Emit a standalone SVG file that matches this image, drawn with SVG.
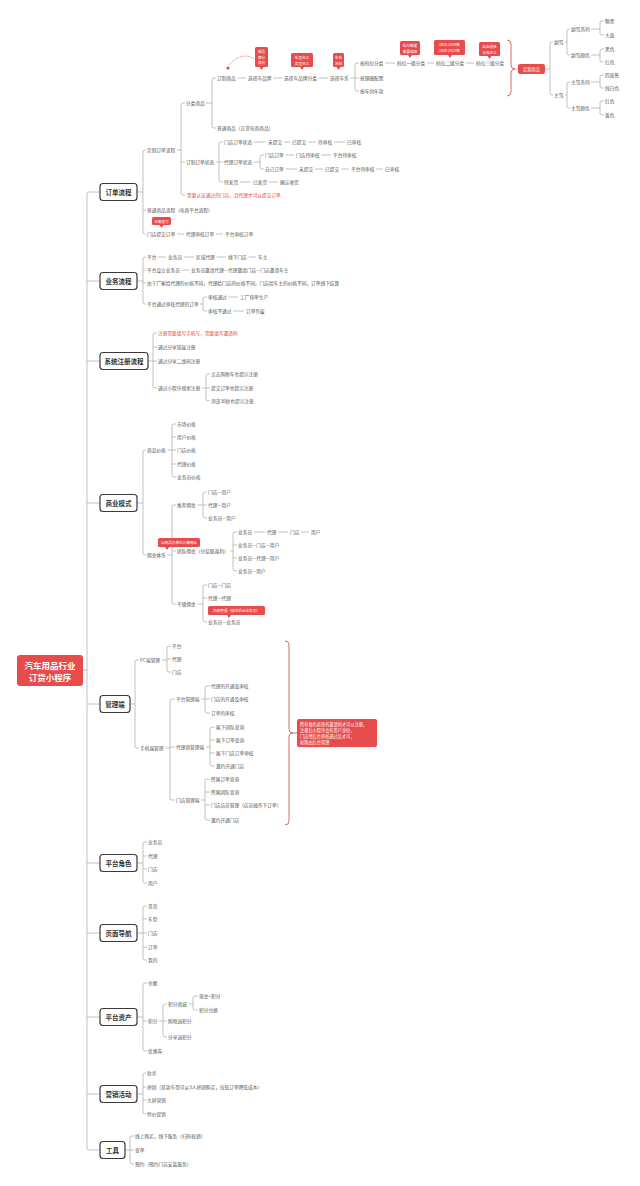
<svg xmlns="http://www.w3.org/2000/svg" width="640" height="1186" viewBox="0 0 640 1186">
<style>
text{font-family:"Noto Sans CJK SC","Noto Sans",sans-serif;font-size:4.7px;fill:#555;dominant-baseline:central}
.r{fill:#e8453c}
.w{fill:#fff;font-size:3.6px;text-anchor:middle}
.wl{fill:#fff;font-size:4.2px}
.h{font-size:6.5px;font-weight:bold;fill:#333;text-anchor:middle}
.rt{font-size:8.5px;font-weight:bold;fill:#fff;text-anchor:middle}
.c{fill:none;stroke:#a8a8a8;stroke-width:0.7}
.br{fill:none;stroke:#c9605a;stroke-width:0.9}
.dt{fill:none;stroke:#e05050;stroke-width:0.8;stroke-dasharray:1 1}
.bx{fill:#fff;stroke:#3a3a3a;stroke-width:1.2}
.rd{fill:#e84b4b}
</style>
<rect width="640" height="1186" fill="#fff"/>
<g id="connectors">
<path class="c" d="M83 670H87M100 192H89Q87 192 87 194V1148Q87 1150 89 1150H100M87 281H100M87 361H100M87 503H100M87 704H100M87 863H100M87 933H100M87 1017H100M87 1094H100"/>
<!-- 订单流程 -->
<path class="c" d="M137 192H143M146 150H145Q143 150 143 152V232Q143 234 145 234H146M143 210H146M177 234H184M216 234H223"/>
<path class="c" d="M177 150H181M185 103H183Q181 103 181 105V193Q181 195 183 195H185M181 162H185"/>
<path class="c" d="M206 103H212M216 78H214Q212 78 212 80V126Q212 128 214 128H216"/>
<path class="c" d="M237.5 78H246M273 78H282M318.5 78H328M350.5 78H355M359 63H357Q355 63 355 65V89Q355 91 357 91H359M355 78H359M385 63H395M427 63H434M466 63H474"/>
<path class="br" d="M507 40Q511 40 511 44V65Q511 69 515 69Q511 69 511 73V92Q511 96 507 96"/>
<path class="c" d="M515 69H518M545 69H550M553 42H552Q550 42 550 44V93Q550 95 552 95H553"/>
<path class="c" d="M565 42H567M570 29H569Q567 29 567 31V53Q567 55 569 55H570M565 95H567M570 82H569Q567 82 567 84V106Q567 108 569 108H570"/>
<path class="c" d="M591 29H600M604 21H602Q600 21 600 23V33Q600 35 602 35H604M591 55H600M604 49H602Q600 49 600 51V60Q600 62 602 62H604M591 82H600M604 75H602Q600 75 600 77V86Q600 88 602 88H604M591 108H600M604 101H602Q600 101 600 103V113Q600 115 602 115H604"/>
<path class="dt" d="M256 60Q242 50 228 66"/>
<circle cx="228" cy="68" r="1.6" fill="#e05050"/>
<path class="c" d="M216 162H219M223 142H221Q219 142 219 144V180Q219 182 221 182H223M219 162H223M254 142H266M284 142H290M308 142H316M334 142H345"/>
<path class="c" d="M254 162H260M264 155H262Q260 155 260 157V167Q260 169 262 169H264M285.5 155H294M321 155H331M285.5 169H297M315 169H323M341 169H349M376 169H383M240 182H251M269 182H278"/>
<!-- 业务流程 -->
<path class="c" d="M137 281H143M146 257H145Q143 257 143 259V302Q143 304 145 304H146M143 270H146M143 283H146M158 257H166M184 257H194M216.5 257H226M248.5 257H256M181.5 270H189"/>
<path class="c" d="M200 304H203M207 297H205Q203 297 203 299V309Q203 311 205 311H207M228.5 297H238M233 311H244"/>
<!-- 系统注册流程 -->
<path class="c" d="M148 361H153M157 333H155Q153 333 153 335V386Q153 388 155 388H157M153 347H157M153 361H157M202 388H206M210 374H208Q206 374 206 376V399Q206 401 208 401H210M206 388H210"/>
<!-- 商业模式 -->
<path class="c" d="M137 503H143M146 450H145Q143 450 143 452V553Q143 555 145 555H146M167.5 450H172M176 424H174Q172 424 172 426V475Q172 477 174 477H176M172 437H176M172 450H176M172 464H176"/>
<path class="c" d="M167.5 555H172M176 505H174Q172 505 172 507V602Q172 604 174 604H176M172 551H176"/>
<path class="c" d="M197.5 505H203M207 492H205Q203 492 203 494V516Q203 518 205 518H207M203 505H207"/>
<path class="c" d="M230 551H233M237 532H235Q233 532 233 534V569Q233 571 235 571H237M233 545H237M233 558H237M254 532H265M278 532H288M301 532H309"/>
<path class="c" d="M197.5 604H203M207 585H205Q203 585 203 587V620Q203 622 205 622H207M203 598H207"/>
<!-- 管理端 -->
<path class="c" d="M130 704H135M139 660H137Q135 660 135 662V746Q135 748 137 748H139M162 660H167M171 646H169Q167 646 167 648V670Q167 672 169 672H171M167 659H171"/>
<path class="c" d="M165 748H170M175 699H172Q170 699 170 701V798Q170 800 172 800H175M170 747H175"/>
<path class="c" d="M201 699H205M210 686H207Q205 686 205 688V711Q205 713 207 713H210M205 699H210"/>
<path class="c" d="M206 747H210M215 727H212Q210 727 210 729V764Q210 766 212 766H215M210 740H215M210 753H215"/>
<path class="c" d="M201 800H205M210 779H207Q205 779 205 781V818Q205 820 207 820H210M205 792H210M205 805H210"/>
<path class="br" d="M285 641Q289 641 289 645V729Q289 733 293 733Q289 733 289 737V821Q289 825 285 825M293 733H297"/>
<!-- 平台角色 / 页面导航 / 平台资产 / 营销活动 / 工具 -->
<path class="c" d="M137 863H143M147 842H145Q143 842 143 844V881Q143 883 145 883H147M143 856H147M143 869H147"/>
<path class="c" d="M137 933H143M147 906H145Q143 906 143 908V958Q143 960 145 960H147M143 919H147M143 933H147M143 947H147"/>
<path class="c" d="M137 1017H143M147 983H145Q143 983 143 985V1049Q143 1051 145 1051H147M143 1021H147M159 1021H163M167 1004H165Q163 1004 163 1006V1035Q163 1037 165 1037H167M163 1021H167M188.5 1004H193M198 996H195Q193 996 193 998V1008Q193 1010 195 1010H198"/>
<path class="c" d="M137 1094H143M146 1073H145Q143 1073 143 1075V1112Q143 1114 145 1114H146M143 1087H146M143 1100H146"/>
<path class="c" d="M125 1150H130M134 1136H132Q130 1136 130 1138V1162Q130 1164 132 1164H134M130 1150H134"/>
</g>

<g id="root"><rect x="17" y="655" width="66" height="31" rx="3" class="rd"/><text x="50" y="665" class="rt">汽车用品行业</text><text x="50" y="677" class="rt">订货小程序</text></g>

<g id="b-order"><rect x="100" y="183.5" width="37" height="17" rx="3" class="bx"/><text x="118.5" y="192" class="h">订单流程</text></g>
<g id="b-biz"><rect x="100" y="272.5" width="37" height="17" rx="3" class="bx"/><text x="118.5" y="281" class="h">业务流程</text></g>
<g id="b-reg"><rect x="100" y="352.5" width="48" height="17" rx="3" class="bx"/><text x="124" y="361" class="h">系统注册流程</text></g>
<g id="b-model"><rect x="100" y="494.5" width="37" height="17" rx="3" class="bx"/><text x="118.5" y="503" class="h">商业模式</text></g>
<g id="b-admin"><rect x="100" y="695.5" width="30" height="17" rx="3" class="bx"/><text x="115" y="704" class="h">管理端</text></g>
<g id="b-role"><rect x="100" y="854.5" width="37" height="17" rx="3" class="bx"/><text x="118.5" y="863" class="h">平台角色</text></g>
<g id="b-nav"><rect x="100" y="924.5" width="37" height="17" rx="3" class="bx"/><text x="118.5" y="933" class="h">页面导航</text></g>
<g id="b-asset"><rect x="100" y="1008.5" width="37" height="17" rx="3" class="bx"/><text x="118.5" y="1017" class="h">平台资产</text></g>
<g id="b-mkt"><rect x="100" y="1085.5" width="37" height="17" rx="3" class="bx"/><text x="118.5" y="1094" class="h">营销活动</text></g>
<g id="b-tool"><rect x="100" y="1141.5" width="25" height="17" rx="3" class="bx"/><text x="112.5" y="1150" class="h">工具</text></g>

<!-- 订单流程 nodes -->
<g id="o1"><text x="147" y="150">定制订单流程</text></g>
<g id="o2"><text x="186" y="103">分类商品</text></g>
<g id="o3"><text x="217" y="78">订制商品</text></g>
<g id="o4"><text x="248" y="78">选择车品牌</text></g>
<g id="o5"><text x="284" y="78">选择车品牌分类</text></g>
<g id="o6"><text x="330" y="78">选择车系</text></g>
<g id="o7"><text x="360" y="63">按档位分类</text></g>
<g id="o8"><text x="360" y="78">按钢圈配置</text></g>
<g id="o9"><text x="360" y="91">按年份年款</text></g>
<g id="o10"><text x="397" y="63">档位一级分类</text></g>
<g id="o11"><text x="436" y="63">档位二级分类</text></g>
<g id="o12"><text x="476" y="63">档位三级分类</text></g>
<g id="o13"><rect x="518" y="64" width="27" height="10" rx="2" class="rd"/><text x="531.5" y="69" class="w" style="font-size:4.2px">定制商品</text></g>
<g id="o14"><text x="554" y="42">副驾</text></g>
<g id="o15"><text x="554" y="95">主驾</text></g>
<g id="o16"><text x="571" y="29">副驾系列</text></g>
<g id="o17"><text x="605" y="21">黝黑</text></g>
<g id="o18"><text x="605" y="35">大面</text></g>
<g id="o19"><text x="571" y="55">副驾颜色</text></g>
<g id="o20"><text x="605" y="49">黑色</text></g>
<g id="o21"><text x="605" y="62">红色</text></g>
<g id="o22"><text x="571" y="82">主驾系列</text></g>
<g id="o23"><text x="605" y="75">四面售</text></g>
<g id="o24"><text x="605" y="88">纯白色</text></g>
<g id="o25"><text x="571" y="108">主驾颜色</text></g>
<g id="o26"><text x="605" y="101">红色</text></g>
<g id="o27"><text x="605" y="115">黄色</text></g>
<g id="o28"><text x="217" y="128">普通商品（正常电商商品）</text></g>
<g id="o29"><text x="186" y="162">订制订单状态</text></g>
<g id="o30"><text x="224" y="142">门店订单状态</text></g>
<g id="o31"><text x="268" y="142">未提交</text></g>
<g id="o32"><text x="292" y="142">已提交</text></g>
<g id="o33"><text x="318" y="142">待审核</text></g>
<g id="o34"><text x="347" y="142">已审核</text></g>
<g id="o35"><text x="224" y="162">代理订单状态</text></g>
<g id="o36"><text x="265" y="155">门店订单</text></g>
<g id="o37"><text x="296" y="155">门店待审核</text></g>
<g id="o38"><text x="333" y="155">平台待审核</text></g>
<g id="o39"><text x="265" y="169">自己订单</text></g>
<g id="o40"><text x="299" y="169">未提交</text></g>
<g id="o41"><text x="325" y="169">已提交</text></g>
<g id="o42"><text x="351" y="169">平台待审核</text></g>
<g id="o43"><text x="385" y="169">已审核</text></g>
<g id="o44"><text x="224" y="182">待发货</text></g>
<g id="o45"><text x="253" y="182">已发货</text></g>
<g id="o46"><text x="280" y="182">确认收货</text></g>
<g id="o47"><text x="187" y="195" class="r">需要认证通过的门店，且代理才可以提交订单</text></g>
<g id="o48"><text x="147" y="210">普通商品流程（电商平台流程）</text></g>
<g id="o49"><text x="147" y="234">门店提交订单</text></g>
<g id="o50"><text x="186" y="234">代理审核订单</text></g>
<g id="o51"><text x="225" y="234">平台审核订单</text></g>

<!-- callouts -->
<g id="k1"><rect x="255" y="47" width="13" height="20" rx="1.5" class="rd"/><polygon points="259.5,67 263.5,67 261.5,70" class="rd"/><text x="261.5" y="51.5" class="w">按品</text><text x="261.5" y="57" class="w">牌分</text><text x="261.5" y="62.5" class="w">类别</text></g>
<g id="k2"><rect x="291" y="53" width="22" height="14" rx="1.5" class="rd"/><polygon points="300,67 304,67 302,70" class="rd"/><text x="302" y="57" class="w">车型定义</text><text x="302" y="63" class="w">类型定义</text></g>
<g id="k3"><rect x="333" y="53" width="11" height="14" rx="1.5" class="rd"/><polygon points="336.5,67 340.5,67 338.5,70" class="rd"/><text x="338.5" y="57" class="w">车系</text><text x="338.5" y="63" class="w">定制</text></g>
<g id="k4"><rect x="400" y="41" width="20" height="14" rx="1.5" class="rd"/><polygon points="408,55 412,55 410,58" class="rd"/><text x="410" y="45" class="w">档位数据</text><text x="410" y="51" class="w">需要编辑</text></g>
<g id="k5"><rect x="434" y="40" width="31" height="15" rx="1.5" class="rd"/><polygon points="448,55 452,55 450,58" class="rd"/><text x="449.5" y="44.5" class="w">2015-2019款</text><text x="449.5" y="50.5" class="w">2020-2023款</text></g>
<g id="k6"><rect x="479" y="42" width="21" height="14" rx="1.5" class="rd"/><polygon points="487.5,56 491.5,56 489.5,59" class="rd"/><text x="489.5" y="46" class="w">自由选择</text><text x="489.5" y="52" class="w">分组定义</text></g>
<g id="k7"><rect x="152" y="217" width="19" height="8" rx="1.5" class="rd"/><polygon points="159.5,225 163.5,225 161.5,228" class="rd"/><text x="161.5" y="221" class="w">无需支付</text></g>

<!-- 业务流程 nodes -->
<g id="y1"><text x="147" y="257">平台</text></g>
<g id="y2"><text x="168" y="257">业务员</text></g>
<g id="y3"><text x="196" y="257">区域代理</text></g>
<g id="y4"><text x="228" y="257">线下门店</text></g>
<g id="y5"><text x="258" y="257">车主</text></g>
<g id="y6"><text x="147" y="270">平台设立业务员</text></g>
<g id="y7"><text x="191" y="270">业务员邀请代理—代理邀请门店—门店邀请车主</text></g>
<g id="y8"><text x="147" y="283">由于厂家给代理的价格不同，代理给门店的价格不同，门店给车主的价格不同，订单线下结算</text></g>
<g id="y9"><text x="147" y="304">平台通过审核代理的订单</text></g>
<g id="y10"><text x="208" y="297">审核通过</text></g>
<g id="y11"><text x="240" y="297">工厂排单生产</text></g>
<g id="y12"><text x="208" y="311">审核不通过</text></g>
<g id="y13"><text x="246" y="311">订单作废</text></g>

<!-- 系统注册流程 nodes -->
<g id="s1"><text x="158" y="333" class="r">注册需要填写手机号，需要填写邀请码</text></g>
<g id="s2"><text x="158" y="347">通过分享链接注册</text></g>
<g id="s3"><text x="158" y="361">通过分享二维码注册</text></g>
<g id="s4"><text x="158" y="388">通过小程序搜索注册</text></g>
<g id="s5"><text x="211" y="374">点击购物车也提示注册</text></g>
<g id="s6"><text x="211" y="388">提交订单也提示注册</text></g>
<g id="s7"><text x="211" y="401">浏览30秒也提示注册</text></g>

<!-- 商业模式 nodes -->
<g id="m1"><text x="147" y="450">商品价格</text></g>
<g id="m2"><text x="177" y="424">市场价格</text></g>
<g id="m3"><text x="177" y="437">用户价格</text></g>
<g id="m4"><text x="177" y="450">门店价格</text></g>
<g id="m5"><text x="177" y="464">代理价格</text></g>
<g id="m6"><text x="177" y="477">业务员价格</text></g>
<g id="m7"><text x="147" y="555">佣金体系</text></g>
<g id="m8"><rect x="158" y="538" width="42" height="9" rx="1.5" class="rd"/><polygon points="165,547 169,547 167,550" class="rd"/><text x="179" y="542.5" class="w">以商品为单位计算佣金</text></g>
<g id="m9"><text x="177" y="505">推荐佣金</text></g>
<g id="m10"><text x="208" y="492">门店—用户</text></g>
<g id="m11"><text x="208" y="505">代理—用户</text></g>
<g id="m12"><text x="208" y="518">业务员—用户</text></g>
<g id="m13"><text x="177" y="551">团队佣金（分层级返利）</text></g>
<g id="m14"><text x="238" y="532">业务员</text></g>
<g id="m15"><text x="267" y="532">代理</text></g>
<g id="m16"><text x="290" y="532">门店</text></g>
<g id="m17"><text x="311" y="532">用户</text></g>
<g id="m18"><text x="238" y="545">业务员—门店—用户</text></g>
<g id="m19"><text x="238" y="558">业务员—代理—用户</text></g>
<g id="m20"><text x="238" y="571">业务员—用户</text></g>
<g id="m21"><text x="177" y="604">平级佣金</text></g>
<g id="m22"><text x="208" y="585">门店—门店</text></g>
<g id="m23"><text x="208" y="598">代理—代理</text></g>
<g id="m24"><rect x="208" y="606" width="57" height="9" rx="1.5" class="rd"/><polygon points="227,615 231,615 229,618" class="rd"/><text x="236.5" y="610.5" class="w">内部管理（绑定后台业务员）</text></g>
<g id="m25"><text x="208" y="622">业务员—业务员</text></g>

<!-- 管理端 nodes -->
<g id="a1"><text x="140" y="660">PC端管理</text></g>
<g id="a2"><text x="172" y="646">平台</text></g>
<g id="a3"><text x="172" y="659">代理</text></g>
<g id="a4"><text x="172" y="672">门店</text></g>
<g id="a5"><text x="140" y="748">手机端管理</text></g>
<g id="a6"><text x="176" y="699">平台管理端</text></g>
<g id="a7"><text x="211" y="686">代理的开通及审核</text></g>
<g id="a8"><text x="211" y="699">门店的开通及审核</text></g>
<g id="a9"><text x="211" y="713">订单的审核</text></g>
<g id="a10"><text x="176" y="747">代理商管理端</text></g>
<g id="a11"><text x="216" y="727">属下团队查询</text></g>
<g id="a12"><text x="216" y="740">属下订单查询</text></g>
<g id="a13"><text x="216" y="753">属下门店订单审核</text></g>
<g id="a14"><text x="216" y="766">邀约开通门店</text></g>
<g id="a15"><text x="176" y="800">门店管理端</text></g>
<g id="a16"><text x="211" y="779">所属订单查询</text></g>
<g id="a17"><text x="211" y="792">所属团队查询</text></g>
<g id="a18"><text x="211" y="805">门店店员管理（店员操作下订单）</text></g>
<g id="a19"><text x="211" y="820">邀约开通门店</text></g>
<g id="a20"><rect x="297" y="719" width="80" height="28" rx="2" class="rd"/><text x="300" y="724" class="wl">所有角色必须有邀请码才可以注册，</text><text x="300" y="730" class="wl">注册后小程序会有用户身份，</text><text x="300" y="736" class="wl">门店经后台审核通过后才可，</text><text x="300" y="742" class="wl">权限由后台管理</text></g>

<!-- 平台角色 -->
<g id="p1"><text x="148" y="842">业务员</text></g>
<g id="p2"><text x="148" y="856">代理</text></g>
<g id="p3"><text x="148" y="869">门店</text></g>
<g id="p4"><text x="148" y="883">用户</text></g>
<!-- 页面导航 -->
<g id="g1"><text x="148" y="906">首页</text></g>
<g id="g2"><text x="148" y="919">车型</text></g>
<g id="g3"><text x="148" y="933">门店</text></g>
<g id="g4"><text x="148" y="947">订单</text></g>
<g id="g5"><text x="148" y="960">我的</text></g>
<!-- 平台资产 -->
<g id="z1"><text x="148" y="983">余额</text></g>
<g id="z2"><text x="148" y="1021">积分</text></g>
<g id="z3"><text x="168" y="1004">积分商城</text></g>
<g id="z4"><text x="199" y="996">现金+积分</text></g>
<g id="z5"><text x="199" y="1010">积分兑换</text></g>
<g id="z6"><text x="168" y="1021">购物送积分</text></g>
<g id="z7"><text x="168" y="1037">分享送积分</text></g>
<g id="z8"><text x="148" y="1051">优惠券</text></g>
<!-- 营销活动 -->
<g id="x1"><text x="147" y="1073">秒杀</text></g>
<g id="x2"><text x="147" y="1087">拼团（某款车型可以3人拼团购买，拉低订单降低成本）</text></g>
<g id="x3"><text x="147" y="1100">大屏营销</text></g>
<g id="x4"><text x="147" y="1114">特价促销</text></g>
<!-- 工具 -->
<g id="t1"><text x="135" y="1136">线上购买，线下服务（扫码核销）</text></g>
<g id="t2"><text x="135" y="1150">查单</text></g>
<g id="t3"><text x="135" y="1164">预约（预约门店安装服务）</text></g>
</svg>
